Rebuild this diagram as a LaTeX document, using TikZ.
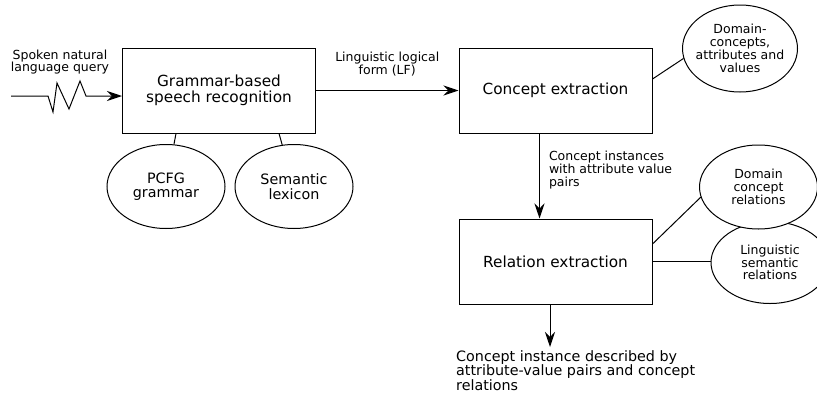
\documentclass[tikz,border=0pt]{standalone}
\usepackage{fontspec}
\setmainfont{DejaVu Sans}
\usetikzlibrary{arrows.meta,shapes.geometric,calc}

\tikzset{
  box/.style={draw,line width=1pt,minimum width=193pt,minimum height=85pt,inner sep=0pt,
    font=\fontsize{15.3}{16}\selectfont,align=center},
  oval/.style={draw,ellipse,line width=1pt,fill=white,inner sep=0pt,align=center,
    minimum width=118pt,minimum height=84pt},
  small/.style={align=center,inner sep=0pt,font=\fontsize{12.5}{12.8}\selectfont},
  mid/.style={align=center,inner sep=0pt,font=\fontsize{14.3}{14.5}\selectfont},
  link/.style={line width=1pt},
  flow/.style={line width=1pt,-{Stealth[length=15pt,width=10pt,inset=5pt]}},
}

\begin{document}
\begin{tikzpicture}[x=1pt,y=-1pt]
  \useasboundingbox (0,0) rectangle (817,394);

  % the three processing steps
  \node[box] (gsr) at (219,90.5) {Grammar-based\\speech recognition};
  \node[box] (cex) at (555.5,90.5) {Concept extraction};
  \node[box] (rex) at (555.5,261.5) {Relation extraction};

  % knowledge sources
  \node[oval,mid] (pcfg) at (166,186.5) {PCFG\\grammar};
  \node[oval,mid] (slex) at (294,186.5) {Semantic\\lexicon};
  \node[oval,minimum width=115pt,minimum height=87pt,
    label={[small]center:{Domain-\\concepts,\\attributes and\\values}}] (dcav) at (740,48.5) {};
  \node[oval,small,minimum height=82pt] (lsr) at (770,262.5) {Linguistic\\semantic\\relations};
  \node[oval,small] (dcr) at (758.5,187) {Domain\\concept\\relations};

  % input with the speech signal
  \coordinate (in) at (11,96);
  \node[small] (query) at (60,62) {Spoken natural\\language query};
  \draw[flow] (in) -- (48,96) -- (53,112) -- (57,83) -- (69,109) -- (80,81) -- (86,96)
    -- (gsr.west |- in);

  \draw[flow] (gsr.east) -- (cex.west) node[small,midway,above=14pt] (lf) {Linguistic logical\\form (LF)};
  \draw[flow] ($(cex.south)+(-16,0)$) -- ($(rex.north)+(-16,0)$)
    node[small,align=left,anchor=west,pos=0.5,xshift=9pt,yshift=6pt] (civ) {Concept instances\\with attribute value\\pairs};

  \coordinate (out) at (550,347);
  \draw[flow] (rex.south -| out) -- (out);
  \node[mid,align=left,anchor=north west] (res) at (456,350)
    {Concept instance described by\\attribute-value pairs and concept\\relations};

  % plain links to the knowledge sources
  \draw[link] ($(gsr.south west)+(54,0)$) -- (pcfg);
  \draw[link] ($(gsr.south west)+(157,0)$) -- (slex);
  \draw[link] ($(cex.east)+(0,-11.5)$) -- (dcav.190);
  \draw[link] ($(rex.east)+(0,-17.5)$) -- (dcr.190);
  \draw[link] (rex.east) -- (rex.east -| lsr.west);
\end{tikzpicture}
\end{document}
